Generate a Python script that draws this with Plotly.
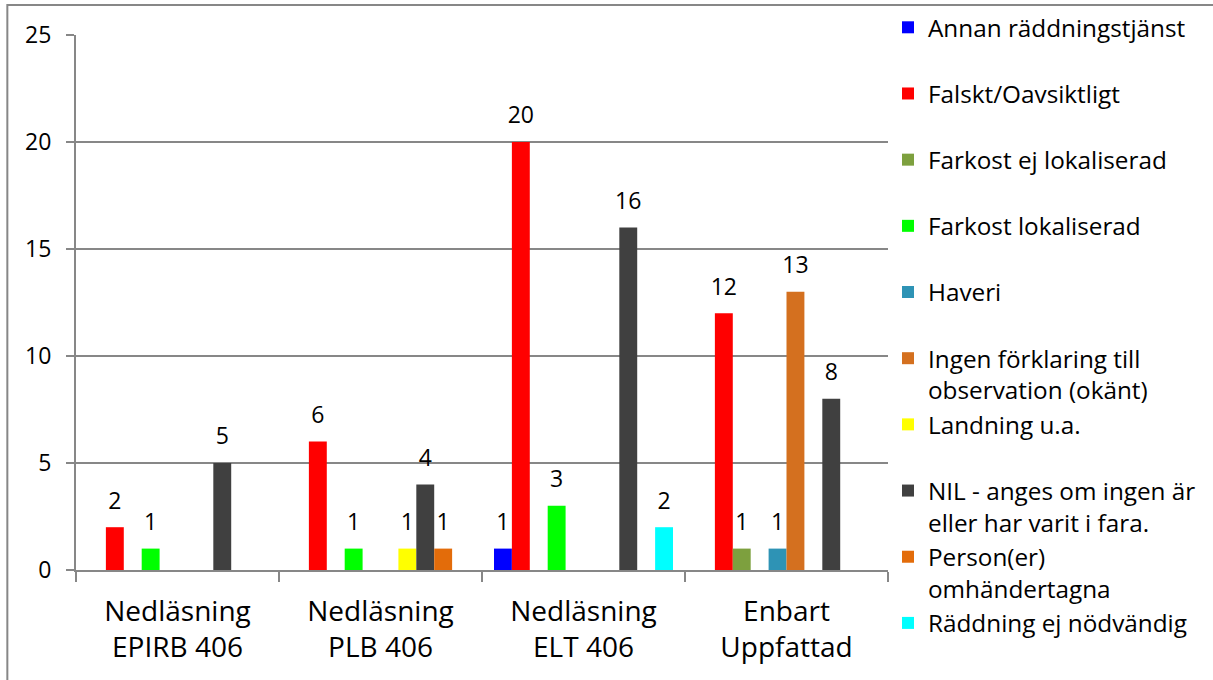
import plotly.graph_objects as go

# ---------------- data ----------------
categories = ["Nedläsning<br>EPIRB 406", "Nedläsning<br>PLB 406",
              "Nedläsning<br>ELT 406", "Enbart<br>Uppfattad"]

series_names = [
    "Annan räddningstjänst",
    "Falskt/Oavsiktligt",
    "Farkost ej lokaliserad",
    "Farkost lokaliserad",
    "Haveri",
    "Ingen förklaring till<br>observation (okänt)",
    "Landning u.a.",
    "NIL - anges om ingen är<br>eller har varit i fara.",
    "Person(er)<br>omhändertagna",
    "Räddning ej nödvändig",
]

annan_raddningstjanst = [None, None, 1, None]
falskt_oavsiktligt = [2, 6, 20, 12]
farkost_ej_lokaliserad = [None, None, None, 1]
farkost_lokaliserad = [1, 1, 3, None]
haveri = [None, None, None, 1]
ingen_forklaring = [None, None, None, 13]
landning_ua = [None, 1, None, None]
nil_ingen_fara = [5, 4, 16, 8]
personer_omhandertagna = [None, 1, None, None]
raddning_ej_nodvandig = [None, None, 2, None]

series_values = [
    annan_raddningstjanst, falskt_oavsiktligt, farkost_ej_lokaliserad,
    farkost_lokaliserad, haveri, ingen_forklaring, landning_ua,
    nil_ingen_fara, personer_omhandertagna, raddning_ej_nodvandig,
]

colors = ["#0000FF", "#FF0000", "#7DA03E", "#00FF00", "#2E93B5",
          "#D4701F", "#FFFF00", "#404040", "#E36C0A", "#00FFFF"]

y_ticks = [0, 5, 10, 15, 20, 25]

# ---------------- figure ----------------
FONT = "Open Sans, Liberation Sans, Arial, sans-serif"
GRID = "#878787"
GAP = 0.118

fig = go.Figure()

for i, (name, vals, col) in enumerate(zip(series_names, series_values, colors)):
    legend_name = name if "<br>" in name else name + "<br> "
    fig.add_trace(go.Bar(
        x=categories, y=vals, name=legend_name,
        marker=dict(color=col, line=dict(width=0)),
        offsetgroup=str(i), hoverinfo="skip",
    ))

# data labels (aligned with bars through grouped scatter mode)
for i, (vals, col) in enumerate(zip(series_values, colors)):
    fig.add_trace(go.Scatter(
        x=categories, y=vals, mode="markers+text",
        text=[("" if v is None else str(v)) for v in vals],
        textposition="top center",
        textfont=dict(family=FONT, size=23, color="black"),
        marker=dict(size=19, color="rgba(0,0,0,0)"),
        offsetgroup=str(i), showlegend=False, hoverinfo="skip",
        cliponaxis=False,
    ))

fig.update_layout(
    width=1213, height=680,
    template="none",
    barmode="group", bargap=GAP, bargroupgap=0,
    scattermode="group", scattergap=GAP,
    margin=dict(l=76, r=321, t=35, b=110),
    paper_bgcolor="white", plot_bgcolor="white",
    font=dict(family=FONT, color="black"),
    showlegend=True,
    legend=dict(
        xref="container", yref="container",
        x=888 / 1213, xanchor="left",
        y=1 - 5 / 680, yanchor="top",
        valign="top",
        maxheight=700,
        font=dict(family=FONT, size=24.3, color="black"),
        bgcolor="rgba(0,0,0,0)", borderwidth=0,
        traceorder="normal",
    ),
    xaxis=dict(
        type="category", automargin=False,
        showline=True, linecolor=GRID, linewidth=2,
        ticks="outside", tickson="boundaries", ticklen=10,
        tickcolor=GRID, tickwidth=2,
        ticklabelstandoff=15,
        showgrid=False, zeroline=False,
        tickfont=dict(family=FONT, size=28, color="black"),
    ),
    yaxis=dict(
        range=[0, 25], tickvals=y_ticks, automargin=False,
        showline=True, linecolor=GRID, linewidth=2,
        ticks="outside", ticklen=8, tickcolor=GRID, tickwidth=2,
        ticklabelstandoff=10,
        showgrid=True, gridcolor=GRID, gridwidth=2,
        zeroline=False,
        tickfont=dict(family=FONT, size=23, color="black"),
    ),
)

# outer chart-area border
fig.add_shape(type="rect", xref="paper", yref="paper",
              x0=(7 - 76) / 816, x1=1.6, y0=-0.4, y1=(570 - 5) / 535,
              line=dict(color=GRID, width=2), fillcolor="rgba(0,0,0,0)",
              layer="above")

fig.write_html(
    "out.html",
    config={"displayModeBar": False},
    post_script="document.body.style.margin='0';document.body.style.overflow='hidden';",
)
